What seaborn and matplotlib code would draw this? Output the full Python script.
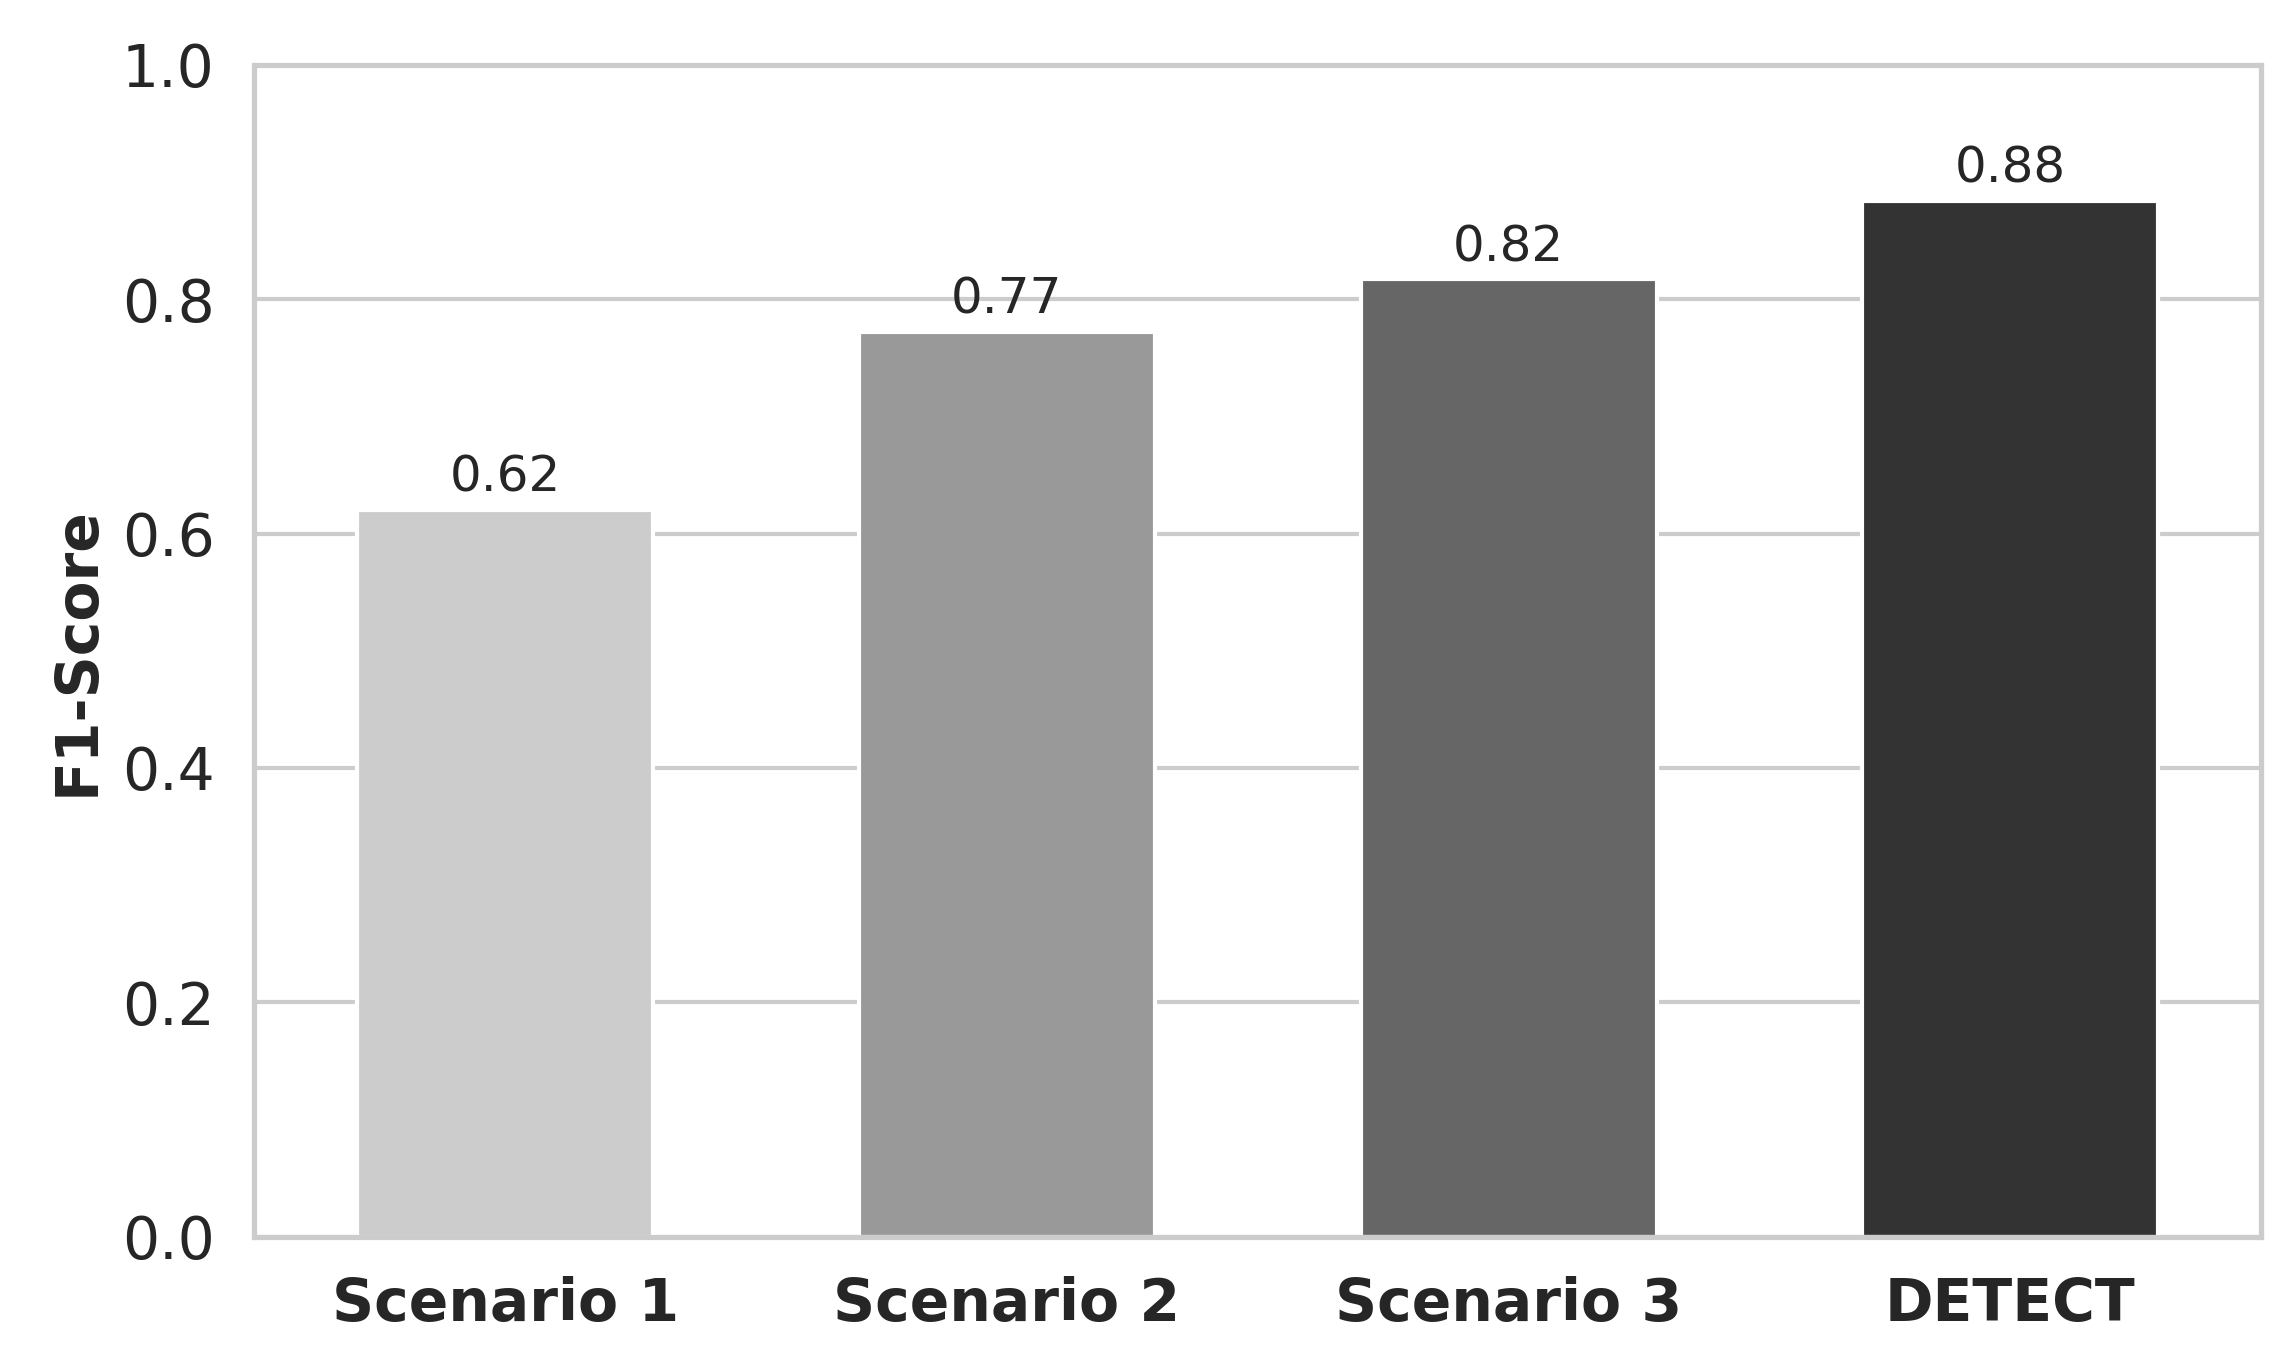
import matplotlib
matplotlib.use("Agg")
import matplotlib.pyplot as plt
import seaborn as sns
import pandas as pd

categories = ["Scenario 1", "Scenario 2", "Scenario 3", "DETECT"]
f1_scores = [0.62, 0.772, 0.817, 0.884]
colors = ["#cccccc", "#999999", "#666666", "#333333"]

sns.set_theme(style="whitegrid")
df = pd.DataFrame({"Method": categories, "F1": f1_scores})

fig = plt.figure(figsize=(2291/300, 1353/300), dpi=300)
ax = fig.add_axes([0.111, 0.086, 0.876, 0.866])
sns.barplot(data=df, x="Method", y="F1", hue="Method", palette=colors,
            width=0.59, legend=False, ax=ax, saturation=1)
ax.set_ylim(0, 1.0)
ax.set_xlabel("")
ax.set_ylabel("F1-Score", fontsize=14, fontweight="bold")
ax.tick_params(axis="y", labelsize=14)
ax.tick_params(axis="x", labelsize=14)
for lbl in ax.get_xticklabels():
    lbl.set_fontweight("bold")
for c in ax.containers:
    ax.bar_label(c, fmt="%.2f", padding=2, fontsize=12)
fig.savefig("out.png", dpi=300)
